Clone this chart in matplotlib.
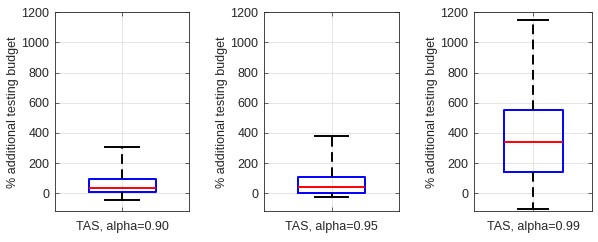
import numpy as np
import matplotlib.pyplot as plt

plt.rcParams['font.family'] = ['Liberation Sans', 'DejaVu Sans']

# box statistics: low whisker, q1, median, q3, high whisker
labels = ['TAS, alpha=0.90', 'TAS, alpha=0.95', 'TAS, alpha=0.99']
whislo = [-48, -25, -102]
q1 = [10, 0, 140]
med = [33, 42, 337]
q3 = [93, 107, 552]
whishi = [305, 382, 1152]

# axes rectangles in pixels (left, right) - last panel is narrower
panels = [(55, 189), (264, 399), (474, 592)]
W, H = 598, 242
top, bottom = 12.3, 211.3

fig = plt.figure(figsize=(W / 100, H / 100), dpi=100)

for i in range(3):
    l, r = panels[i]
    ax = fig.add_axes([l / W, 1 - bottom / H, (r - l) / W, (bottom - top) / H])
    stats = [dict(whislo=whislo[i], q1=q1[i], med=med[i], q3=q3[i],
                  whishi=whishi[i], fliers=[], label=labels[i])]
    ax.bxp(stats, positions=[1], widths=0.5, showfliers=False,
           boxprops=dict(color='#0000ff', linewidth=1.4),
           medianprops=dict(color='#ff0000', linewidth=1.4),
           whiskerprops=dict(color='black', linewidth=1.4, linestyle=(0, (5, 2.8))),
           capprops=dict(color='black', linewidth=1.4),
           capwidths=0.25)
    ax.set_xlim(0.5, 1.5)
    ax.set_ylim(-120, 1200)
    ax.set_yticks([0, 200, 400, 600, 800, 1000, 1200])
    ax.set_xticks([1])
    ax.set_xticklabels([labels[i]])
    ax.grid(True, color='#e0e0e0', linewidth=0.6)
    ax.set_axisbelow(True)
    ax.tick_params(direction='in', length=3, width=0.5, color='#262626',
                   labelsize=9, labelcolor='#262626', pad=4, top=True, right=True)
    ax.tick_params(axis='x', pad=7)
    for s in ax.spines.values():
        s.set_color('#262626')
        s.set_linewidth(0.6)
    ax.set_ylabel('% additional testing budget', fontsize=9, color='#262626', labelpad=1.5)

plt.savefig('out.png', dpi=100)
